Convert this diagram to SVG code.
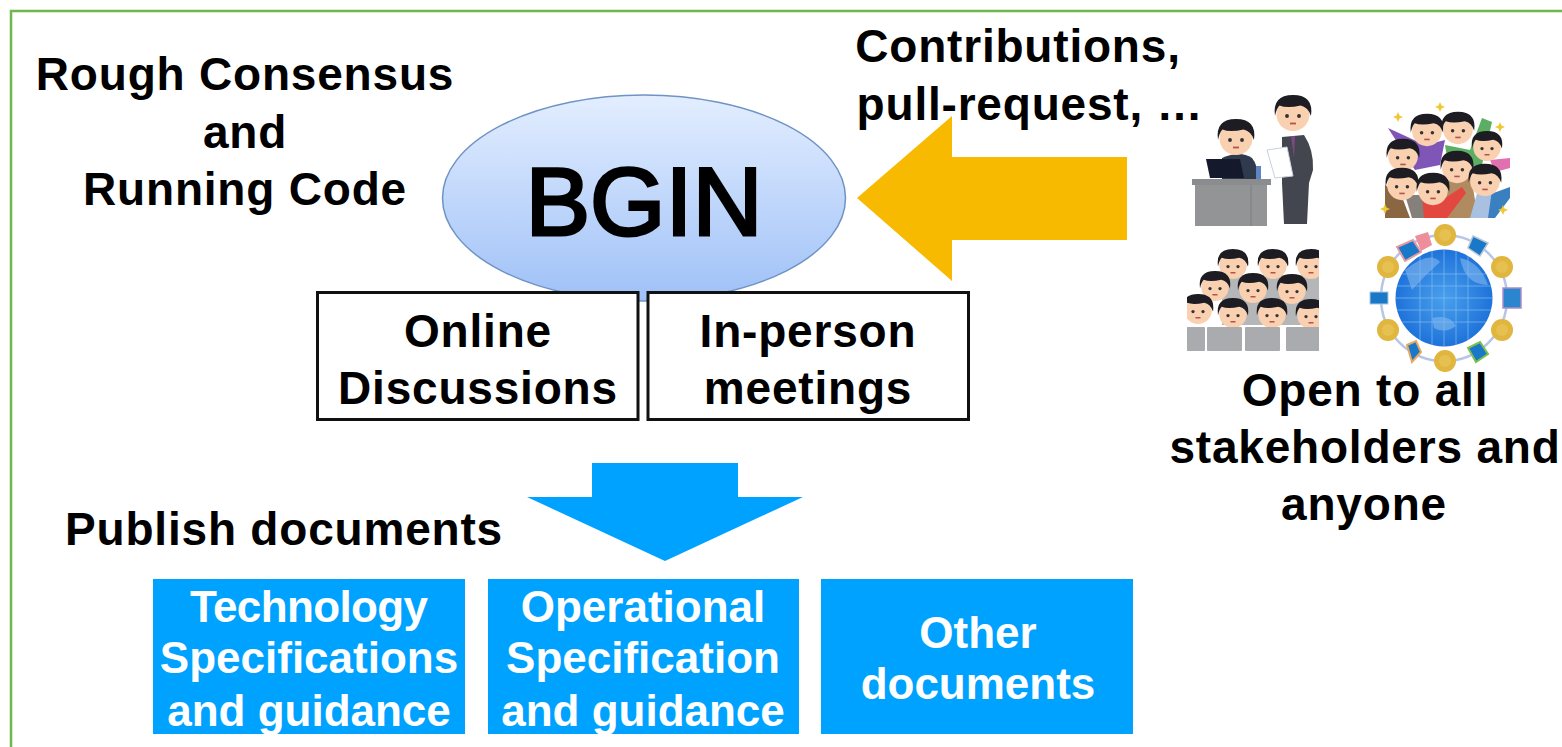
<svg xmlns="http://www.w3.org/2000/svg" width="1562" height="747" viewBox="0 0 1562 747">
<defs>
<linearGradient id="ell" x1="0" y1="0" x2="0" y2="1"><stop offset="0" stop-color="#e3eeff"/><stop offset="1" stop-color="#9fc1f7"/></linearGradient>
<radialGradient id="globe" cx="0.5" cy="0.5" r="0.55"><stop offset="0" stop-color="#4aa0ec"/><stop offset="1" stop-color="#1a6ed8"/></radialGradient>
<clipPath id="classClip"><rect x="1187" y="240" width="132" height="112"/></clipPath>
<clipPath id="globeClip"><circle cx="1444" cy="298" r="48.500"/></clipPath>
<g id="coin"><circle r="11" fill="#e0b63e"/><circle r="6" fill="#e6c050"/></g>
<g id="head">
<circle r="11" cy="1" fill="#f9d0b0"/>
<path d="M-12,2 Q-14,-12 0,-12 Q14,-12 12,2 Q10,-4 5,-5 Q-4,-3 -9,-5 Q-11,-3 -12,2Z" fill="#1c1c22"/>
<circle cx="-4" cy="2" r="1.300" fill="#333"/><circle cx="4" cy="2" r="1.300" fill="#333"/>
<path d="M-2,7 H2" stroke="#b5524a" stroke-width="1.200"/>
</g>
<g id="laptop"><rect width="35" height="24" rx="1" fill="#a9abae"/></g>
<path id="star" d="M0,-5 L1.500,-1.500 L5,0 L1.500,1.500 L0,5 L-1.500,1.500 L-5,0 L-1.500,-1.500Z" fill="#f0c832"/>
</defs>
<style>
text{font-family:"Liberation Sans",Arial,sans-serif;font-weight:bold;fill:#000;text-anchor:middle}
.w{fill:#fff;font-size:44px}
.box{fill:#fff;stroke:#111;stroke-width:3}
.blue{fill:#00a2ff}
.t{font-size:46px;letter-spacing:0.800px}
</style>
<rect width="1562" height="747" fill="#fff"/>
<path d="M1562,11 H11 V747" fill="none" stroke="#70b84a" stroke-width="2.500"/>

<g id="connectors">
<polygon points="857,198 952,116 952,157 1127,157 1127,240 952,240 952,281" fill="#f7ba00"/>
<polygon points="592,463 738,463 738,497 803,497 665,561 527,497 592,497" fill="#00a2ff"/>
</g>

<g id="label-rough">
<text class="t" x="245" y="90">Rough Consensus</text>
<text class="t" x="245" y="148">and</text>
<text class="t" x="245" y="205">Running Code</text>
</g>
<g id="node-bgin">
<ellipse cx="644" cy="198" rx="201.500" ry="103" fill="url(#ell)" stroke="#6f93c4" stroke-width="1.500"/>
<text x="644" y="235" font-size="97" style="font-weight:normal;stroke:#000;stroke-width:3">BGIN</text>
</g>
<g id="node-online">
<rect class="box" x="317.500" y="292.500" width="320.500" height="127"/>
<text class="t" x="478" y="347">Online</text>
<text class="t" x="478" y="404">Discussions</text>
</g>
<g id="node-inperson">
<rect class="box" x="648" y="292.500" width="320.500" height="127"/>
<text class="t" x="808" y="347">In-person</text>
<text class="t" x="808" y="404">meetings</text>
</g>
<g id="label-contrib">
<text class="t" x="1018" y="62">Contributions,</text>
<text class="t" x="1030" y="120">pull-request, …</text>
</g>
<g id="label-publish"><text class="t" x="284" y="545">Publish documents</text></g>
<g id="label-open">
<text class="t" x="1365" y="406">Open to all</text>
<text class="t" x="1365" y="463">stakeholders and</text>
<text class="t" x="1364" y="520">anyone</text>
</g>
<g id="node-tech">
<rect class="blue" x="153" y="579" width="312" height="155"/>
<text class="w" x="309" y="622" textLength="238">Technology</text>
<text class="w" x="309" y="673">Specifications</text>
<text class="w" x="309" y="726">and guidance</text>
</g>
<g id="node-op">
<rect class="blue" x="488" y="579" width="311" height="155"/>
<text class="w" x="643" y="622">Operational</text>
<text class="w" x="643" y="673">Specification</text>
<text class="w" x="643" y="726">and guidance</text>
</g>
<g id="node-other">
<rect class="blue" x="821" y="579" width="312" height="155"/>
<text class="w" x="978" y="648">Other</text>
<text class="w" x="978" y="699">documents</text>
</g>

<g id="illustration-office">
<path d="M1222,158 Q1240,150 1252,158 Q1258,165 1258,179 H1222Z" fill="#2f3a4c"/>
<rect x="1256" y="166" width="5" height="13" fill="#5f86c4"/>
<use href="#head" transform="translate(1236,137) scale(1.500)"/>
<polygon points="1206,159 1240,159 1244,178 1210,178" fill="#14192b"/>
<rect x="1192" y="179" width="79" height="6" fill="#8a8c8e"/>
<rect x="1195" y="185" width="72" height="41" fill="#929496"/>
<path d="M1251,185 V226" stroke="#7c7e80" stroke-width="1"/>
<path d="M1282,137 L1304,135 Q1314,150 1313,170 L1309,183 L1307,224 H1284 L1282,183Z" fill="#43464e"/>
<path d="M1291,136 H1295 L1294,158Z" fill="#7b4a80"/>
<polygon points="1267,150 1287,147 1293,176 1275,178" fill="#fff" stroke="#c8d0dc"/>
<use href="#head" transform="translate(1293,113) scale(1.500)"/>
</g>
<g id="illustration-crowd">
<path d="M1385,218 V185 L1402,197 L1410,218Z" fill="#8a6642"/>
<path d="M1388,128 L1425,145 L1445,140 L1440,165 L1415,170Z" fill="#7f55b8"/>
<path d="M1445,145 L1470,150 L1482,118 L1492,122 L1482,165 L1450,175Z" fill="#5cae63"/>
<path d="M1445,170 L1470,170 L1478,218 H1445Z" fill="#b08a60"/>
<path d="M1478,218 L1488,195 L1510,187 V198 L1495,218Z" fill="#3a7fc0"/>
<path d="M1470,218 L1478,190 H1492 L1488,218Z" fill="#a9c0e0"/>
<path d="M1420,218 L1419,200 H1442 L1462,187 L1466,193 L1447,218Z" fill="#e2483f"/>
<path d="M1412,218 L1405,195 H1422 L1424,218Z" fill="#85807a"/>
<path d="M1490,160 L1510,158 V168 L1495,172Z" fill="#e070b0"/>
<use href="#head" transform="translate(1427,130) scale(1.350)"/>
<use href="#head" transform="translate(1458,128) scale(1.350)"/>
<use href="#head" transform="translate(1403,155) scale(1.350)"/>
<use href="#head" transform="translate(1487,146) scale(1.250)"/>
<use href="#head" transform="translate(1457,167) scale(1.350)"/>
<use href="#head" transform="translate(1402,184) scale(1.350)"/>
<use href="#head" transform="translate(1433,189) scale(1.350)"/>
<use href="#head" transform="translate(1485,180) scale(1.350)"/>
<use href="#star" x="1440" y="107"/><use href="#star" x="1398" y="117"/><use href="#star" x="1500" y="127"/><use href="#star" x="1503" y="210"/><use href="#star" x="1385" y="209"/>
</g>
<g id="illustration-class" clip-path="url(#classClip)">
<rect x="1222" y="275" width="97" height="50" fill="#b4b6b8"/>
<use href="#head" transform="translate(1233,264) scale(1.250)"/>
<use href="#head" transform="translate(1273,264) scale(1.250)"/>
<use href="#head" transform="translate(1311,264) scale(1.250)"/>
<use href="#head" transform="translate(1215,286) scale(1.250)"/>
<use href="#head" transform="translate(1253,288) scale(1.250)"/>
<use href="#head" transform="translate(1292,289) scale(1.250)"/>
<use href="#head" transform="translate(1198,309) scale(1.250)"/>
<use href="#head" transform="translate(1233,313) scale(1.250)"/>
<use href="#head" transform="translate(1272,313) scale(1.250)"/>
<use href="#head" transform="translate(1311,314) scale(1.250)"/>
<use href="#laptop" x="1170" y="327"/><use href="#laptop" x="1207" y="327"/><use href="#laptop" x="1245" y="327"/><use href="#laptop" x="1286" y="327"/>
</g>
<g id="illustration-globe">
<circle cx="1444" cy="298" r="63" fill="none" stroke="#b6c6e4" stroke-width="2.500"/>
<circle cx="1444" cy="298" r="48.500" fill="url(#globe)"/>
<g clip-path="url(#globeClip)">
<path d="M1396,286 H1492 M1396,298 H1492 M1396,310 H1492 M1396,274 H1492 M1396,322 H1492 M1444,250 V346 M1432,250 V346 M1456,250 V346 M1420,250 V346 M1468,250 V346" stroke="#7fbcf2" stroke-width="0.700" fill="none"/>
<path d="M1460,258 Q1480,262 1488,285 Q1465,285 1460,258Z M1432,318 Q1450,314 1456,326 Q1445,334 1434,328Z M1405,270 Q1430,250 1440,262 Q1425,275 1412,290Z" fill="#82b8ee" opacity="0.600"/>
</g>
<use href="#coin" x="1445" y="235"/><use href="#coin" x="1388" y="267"/><use href="#coin" x="1502" y="267"/>
<use href="#coin" x="1388" y="330"/><use href="#coin" x="1502" y="330"/><use href="#coin" x="1445" y="361"/>
<polygon points="1415,236 1428,232 1432,245 1421,251" fill="#ec8f9b"/>
<polygon points="1397,247 1413,240 1421,252 1405,261" fill="#1a78c8" stroke="#e69aa5" stroke-width="2"/>
<polygon points="1473,236 1488,243 1480,256 1468,248" fill="#1a78c8" stroke="#b9c6d6" stroke-width="1.500"/>
<rect x="1370" y="292" width="18" height="12" fill="#1a78c8" stroke="#a9c8dd"/>
<rect x="1503" y="288" width="18" height="20" fill="#2b86cf" stroke="#a98fc8" stroke-width="1.500"/>
<polygon points="1407,345 1416,341 1421,352 1412,362" fill="#1a78c8" stroke="#e8a860" stroke-width="2"/>
<polygon points="1468,348 1480,342 1488,354 1476,362" fill="#1a78c8" stroke="#7fbf50" stroke-width="2"/>
</g>
</svg>
